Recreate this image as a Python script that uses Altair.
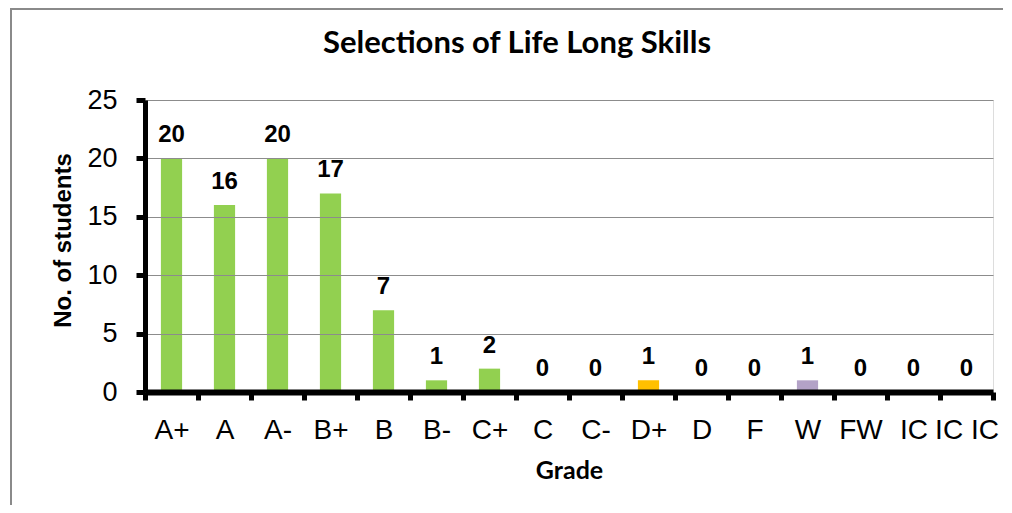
import altair as alt
import pandas as pd

# ---- data ----
grades = ["A+", "A", "A-", "B+", "B", "B-", "C+", "C", "C-", "D+", "D", "F", "W", "FW", "IC", "IC IC"]
students = [20, 16, 20, 17, 7, 1, 2, 0, 0, 1, 0, 0, 1, 0, 0, 0]
y_ticks = [0, 5, 10, 15, 20, 25]

GREEN, ORANGE, PURPLE = "#92D050", "#FFC000", "#B3A2C7"
bar_colors = [GREEN] * 9 + [ORANGE] + [GREEN] * 2 + [PURPLE] + [GREEN] * 3

df = pd.DataFrame({"grade": grades, "students": students})

W, H = 848, 292

x = alt.X(
    "grade:N",
    sort=grades,
    scale=alt.Scale(paddingInner=0, paddingOuter=0),
    axis=alt.Axis(
        title="Grade",
        titleFont="Lato",
        titleFontSize=25,
        titleFontWeight="bold",
        titleColor="black",
        titleBaseline="alphabetic",
        titleY=86,
        labelAngle=0,
        labelFont="Liberation Sans",
        labelFontSize=28,
        labelColor="black",
        labelBaseline="alphabetic",
        labelPadding=38,
        tickBand="extent",
        tickColor="black",
        tickSize=8,
        tickWidth=5,
        domainColor="black",
        domainWidth=6,
        grid=False,
        zindex=1,
    ),
)

y = alt.Y(
    "students:Q",
    scale=alt.Scale(domain=[0, 25], nice=False),
    axis=alt.Axis(
        title="No. of students",
        titleFont="Liberation Sans",
        titleFontSize=24,
        titleFontWeight="bold",
        titleColor="black",
        titleBaseline="alphabetic",
        titleX=-75,
        titleY=140,
        values=y_ticks,
        labelFont="Liberation Sans",
        labelFontSize=27,
        labelColor="black",
        labelPadding=19,
        tickColor="black",
        tickSize=9,
        tickWidth=5,
        domainColor="black",
        domainWidth=5,
        grid=True,
        gridColor="#8c8c8c",
        gridWidth=1,
        zindex=1,
    ),
)

bars = alt.Chart(df).mark_bar(width=alt.RelativeBandSize(0.4)).encode(
    x=x,
    y=y,
    color=alt.Color("grade:N", scale=alt.Scale(domain=grades, range=bar_colors), legend=None),
)

labels = alt.Chart(df).mark_text(
    font="Liberation Sans",
    fontSize=24,
    fontWeight="bold",
    color="black",
    baseline="alphabetic",
    dy=-16,
).encode(
    x=alt.X("grade:N", sort=grades),
    y=alt.Y("students:Q"),
    text=alt.Text("students:Q"),
)

title_df = pd.DataFrame({"t": ["Selections of Life Long Skills"]})
title = alt.Chart(title_df).mark_text(
    font="Lato",
    fontSize=31,
    fontWeight="bold",
    color="black",
    baseline="alphabetic",
    align="center",
).encode(
    text="t:N",
    x=alt.value(372),
    y=alt.value(-47),
)

# chart-area frame: only the top and left edges are visible in the reference
border_top = alt.Chart(title_df).mark_rule(color="#8a8a8a", strokeWidth=2).encode(
    x=alt.value(-134),
    x2=alt.value(858),
    y=alt.value(-91),
)
border_left = alt.Chart(title_df).mark_rule(color="#8a8a8a", strokeWidth=2).encode(
    x=alt.value(-134),
    y=alt.value(-92),
    y2=alt.value(412),
)

chart = alt.layer(border_top, border_left, bars, labels, title).properties(
    width=W,
    height=H,
    padding={"left": 137, "top": 92, "right": 11, "bottom": 113},
    autosize=alt.AutoSizeParams(type="none"),
).configure_view(stroke=None).configure(background="white")

chart.save("out.html", embed_options={"renderer": "svg", "actions": False})
